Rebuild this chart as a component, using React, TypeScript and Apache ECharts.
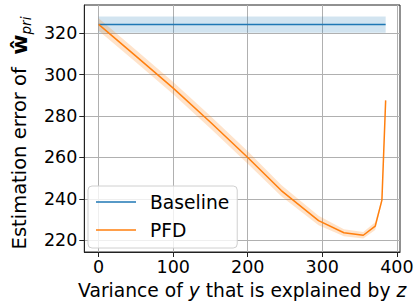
import React, { useEffect, useRef } from "react";
import * as echarts from "echarts";

// ---- data ----
const pfdX = [0, 50, 100, 150, 200, 245, 295, 329, 355, 371, 380, 385];
const pfdMean = [324.3, 309, 293.5, 277, 260, 244, 229.5, 223.6, 222.4, 226.8, 239.4, 287.6];
const pfdLower = [321.3, 306.0, 290.5, 274.0, 257.0, 241.3, 227.2, 221.9, 220.8, 224.9, 238.4, 287.2];
const pfdUpper = [327.3, 312.0, 296.5, 280.0, 263.0, 246.7, 231.8, 225.3, 224.0, 228.7, 240.4, 288.0];

const baselineX = [0, 385];
const baselineMean = [324.3, 324.3];
const baselineLower = [320.3, 320.3];
const baselineUpper = [328.2, 328.2];

const xTicks = [0, 100, 200, 300, 400];
const yTicks = [220, 240, 260, 280, 300, 320];

const BLUE = "#1f77b4";
const ORANGE = "#ff7f0e";
const FONT = "DejaVu Sans";
const TICK_FS = 17.5;
const LABEL_FS = 18.7;
const YLABEL_FS = 19.5;

function makeBand(name: string, xs: number[], lo: number[], hi: number[], fill: string) {
  return {
    type: "custom",
    name,
    silent: true,
    data: xs.map((x, i) => [x, lo[i], hi[i]]),
    encode: { x: 0, y: [1, 2] },
    renderItem: (params: any, api: any) => {
      if (params.dataIndex !== 0) return null;
      const pts: number[][] = [];
      for (let i = 0; i < xs.length; i++) pts.push(api.coord([xs[i], hi[i]]));
      for (let i = xs.length - 1; i >= 0; i--) pts.push(api.coord([xs[i], lo[i]]));
      return { type: "polygon", shape: { points: pts }, style: { fill } };
    },
  };
}

export default function App() {
  const ref = useRef<HTMLDivElement>(null);
  useEffect(() => {
    if (!ref.current) return;
    const chart = echarts.init(ref.current, null, { renderer: "svg" });
    chart.setOption({
      animation: false,
      backgroundColor: "#ffffff",
      grid: {
        left: 79,
        top: 5,
        right: 17,
        bottom: 48,
        show: true,
        borderColor: "#222",
        borderWidth: 1,
        containLabel: false,
      },
      legend: {
        orient: "vertical",
        left: 88,
        top: 186,
        data: ["Baseline", "PFD"],
        icon: "rect",
        itemWidth: 40,
        itemHeight: 1.5,
        itemGap: 6,
        padding: [5, 8, 7, 8],
        backgroundColor: "rgba(255,255,255,0.8)",
        borderColor: "#d0d0d0",
        borderWidth: 1,
        borderRadius: 4,
        textStyle: { fontFamily: FONT, fontSize: LABEL_FS, color: "#000", lineHeight: 22, padding: [0, 0, 0, 9] },
      },
      xAxis: {
        type: "value",
        min: -19.25,
        max: 404.25,
        name: "Variance of {i|y} that is explained by {i|z}",
        nameLocation: "middle",
        nameGap: 29,
        nameTextStyle: {
          fontFamily: FONT,
          fontSize: LABEL_FS,
          color: "#000",
          rich: { i: { fontFamily: FONT, fontSize: LABEL_FS, fontStyle: "italic", color: "#000" } },
        },
        axisLine: { show: true, onZero: false, lineStyle: { color: "#222", width: 1 } },
        axisTick: { show: true, length: 5, inside: false, customValues: xTicks, lineStyle: { color: "#222", width: 1 } },
        axisLabel: { customValues: xTicks, fontFamily: FONT, fontSize: TICK_FS, color: "#000", margin: 6 },
        splitLine: { show: true, lineStyle: { color: "#b0b0b0", width: 1 } },
      },
      yAxis: {
        type: "value",
        min: 214.3,
        max: 333.7,
        name: "{a|Estimation error of  }{w|ŵ}{s|pri}",
        nameLocation: "middle",
        nameRotate: 90,
        nameGap: 39,
        nameTextStyle: {
          fontFamily: FONT,
          fontSize: YLABEL_FS,
          color: "#000",
          padding: [0, 9, 0, 0],
          rich: {
            a: { fontFamily: FONT, fontSize: YLABEL_FS, color: "#000", lineHeight: 28 },
            w: { fontFamily: FONT, fontSize: 22, fontWeight: "bold", color: "#000", lineHeight: 28 },
            s: { fontFamily: FONT, fontSize: 13.5, fontStyle: "italic", color: "#000", lineHeight: 13, verticalAlign: "bottom" },
          },
        },
        axisLine: { show: true, onZero: false, lineStyle: { color: "#222", width: 1 } },
        axisTick: { show: true, length: 5, inside: false, customValues: yTicks, lineStyle: { color: "#222", width: 1 } },
        axisLabel: { customValues: yTicks, fontFamily: FONT, fontSize: TICK_FS, color: "#000", margin: 7 },
        splitLine: { show: true, lineStyle: { color: "#b0b0b0", width: 1 } },
      },
      series: [
        makeBand("BaselineBand", baselineX, baselineLower, baselineUpper, "rgba(31,119,180,0.2)"),
        {
          type: "line",
          name: "Baseline",
          data: baselineX.map((x, i) => [x, baselineMean[i]]),
          showSymbol: false,
          color: BLUE,
          lineStyle: { color: BLUE, width: 1.5 },
        },
        makeBand("PFDBand", pfdX, pfdLower, pfdUpper, "rgba(255,127,14,0.22)"),
        {
          type: "line",
          name: "PFD",
          data: pfdX.map((x, i) => [x, pfdMean[i]]),
          showSymbol: false,
          color: ORANGE,
          lineStyle: { color: ORANGE, width: 1.5 },
        },
      ],
    });
    return () => chart.dispose();
  }, []);
  return (
    <div
      ref={ref}
      style={{ position: "fixed", left: 0, top: 0, width: 417, height: 305, background: "#fff" }}
    />
  );
}
